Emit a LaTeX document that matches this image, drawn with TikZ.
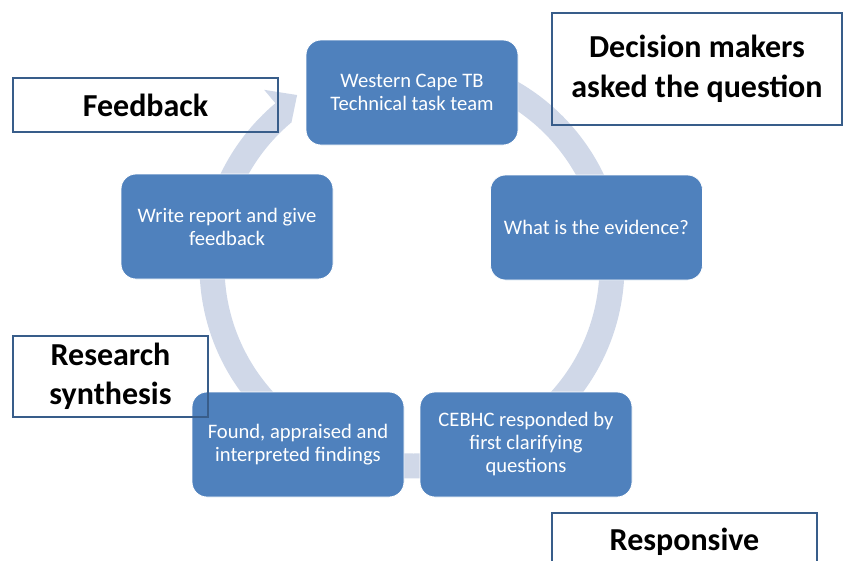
\documentclass[tikz,border=0pt]{standalone}
\usepackage{fontspec}
\setmainfont{Carlito}
\usetikzlibrary{calc}
\definecolor{boxblue}{HTML}{4F81BD}
\definecolor{ringblue}{HTML}{D0D8E8}
\definecolor{edgeblue}{HTML}{385D8A}
\begin{document}
\begin{tikzpicture}[x=1pt,y=1pt,
  stepbox/.style={draw=white,line width=0.8pt,fill=boxblue,rounded corners=15pt,
    minimum width=212pt,minimum height=105pt,align=center,text=white,
    font=\fontsize{20.6}{23}\selectfont,inner sep=2pt},
  labelbox/.style={draw=edgeblue,line width=1.6pt,align=center,text=black,
    font=\fontsize{32}{39.5}\selectfont\bfseries,inner sep=0pt}]
\useasboundingbox (0,0) rectangle (844,-560);
\coordinate (c) at (412,-266);
% ring with arrow head
\fill[ringblue] ($(c)+(88:212.5)$) arc[start angle=88,end angle=-230,radius=212.5]
  -- ($(c)+(130:230)$) -- ($(c)+(123.9:206)$) -- ($(c)+(130:187.5)$)
  arc[start angle=-230,end angle=88,radius=187.5] -- cycle;
% process boxes
\node[stepbox] (top) at (412,-92.5) {Western Cape TB\\Technical task team};
\node[stepbox] (right) at (596.5,-227.5) {What is the evidence?};
\node[stepbox] (left) at (227,-226.5) {Write report and give\\feedback};
\node[stepbox] (bl) at (298,-444.5) {Found, appraised and\\interpreted findings};
\node[stepbox] (br) at (526,-444.5) {CEBHC responded by\\first clarifying\\questions};
% label boxes
\node[labelbox,minimum width=265pt,minimum height=54pt] (fb) at (145.5,-105) {Feedback};
\node[labelbox,minimum width=290pt,minimum height=112pt] (dm) at (697,-69) {Decision makers\\asked the question};
\node[labelbox,minimum width=195pt,minimum height=81pt] (rs) at (110.5,-376.5) {Research\\synthesis};
\node[labelbox,minimum width=265pt,minimum height=58pt] (rp) at (684.5,-542) {Responsive};
\end{tikzpicture}
\end{document}
